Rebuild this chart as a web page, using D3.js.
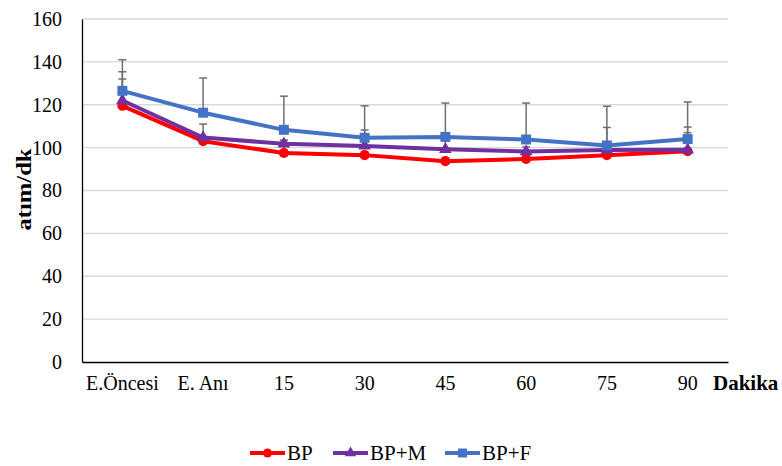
<!DOCTYPE html>
<html>
<head>
<meta charset="utf-8">
<script src="https://cdn.jsdelivr.net/npm/d3@7/dist/d3.min.js"></script>
<style>
  html, body { margin: 0; padding: 0; background: #fff; }
  svg { display: block; }
  svg text { fill: #000; }
</style>
</head>
<body>
<svg id="chart" width="782" height="466"></svg>
<script>
// Time points (minutes) and heart-rate means with their upper error values
const categories = ["E.Öncesi", "E. Anı", "15", "30", "45", "60", "75", "90"];
const yTicks = [0, 20, 40, 60, 80, 100, 120, 140, 160];

const bpValues  = [119.5, 103.0, 97.5, 96.5, 93.7, 94.7, 96.5, 98.3];
const bpErr     = [12.5, 1.5, 6.0, 1.5, 1.5, 1.5, 1.5, 8.7];

const bpmValues = [122.0, 104.7, 101.8, 100.8, 99.2, 98.2, 98.9, 99.0];
const bpmErr    = [13.4, 6.3, 1.5, 7.4, 5.5, 2.1, 10.5, 10.6];

const bpfValues = [126.5, 116.3, 108.3, 104.6, 105.0, 103.8, 101.0, 104.0];
const bpfErr    = [14.5, 16.2, 15.7, 14.9, 15.8, 17.0, 18.3, 17.3];

const seriesNames  = ["BP", "BP+M", "BP+F"];
const seriesColors = ["#ff0000", "#7030a0", "#4472c4"];
const seriesShapes = [d3.symbolCircle, d3.symbolTriangle, d3.symbolSquare];

const series = [
  { name: seriesNames[0], values: bpValues,  err: bpErr,  color: seriesColors[0], shape: seriesShapes[0], size: 80 },
  { name: seriesNames[1], values: bpmValues, err: bpmErr, color: seriesColors[1], shape: seriesShapes[1], size: 70 },
  { name: seriesNames[2], values: bpfValues, err: bpfErr, color: seriesColors[2], shape: seriesShapes[2], size: 100 }
];

const FONT = "'Liberation Serif', 'Times New Roman', serif";
const svg = d3.select("#chart").attr("font-family", FONT);
const plot = { left: 82, right: 728, top: 19, bottom: 362 };

const x = d3.scaleBand().domain(categories).range([plot.left, plot.right]);
const y = d3.scaleLinear().domain([0, 160]).range([plot.bottom, plot.top]);
const cx = c => x(c) + x.bandwidth() / 2;

// Horizontal gridlines
svg.append("g")
  .selectAll("line")
  .data(yTicks.filter(t => t > 0))
  .join("line")
  .attr("x1", plot.left).attr("x2", plot.right)
  .attr("y1", d => y(d)).attr("y2", d => y(d))
  .attr("stroke", "#d9d9d9").attr("stroke-width", 1.3);

// Y axis
const yAxis = svg.append("g")
  .attr("transform", `translate(${plot.left},0)`)
  .call(d3.axisLeft(y).tickValues(yTicks).tickSize(0).tickPadding(20));
yAxis.attr("font-family", FONT).attr("font-size", 20);
yAxis.selectAll("text").attr("fill", "#000");
yAxis.select(".domain").attr("stroke", "#000").attr("stroke-width", 1.3);

// X axis
const xAxis = svg.append("g")
  .attr("transform", `translate(0,${plot.bottom})`)
  .call(d3.axisBottom(x).tickSize(0).tickPadding(14));
xAxis.attr("font-family", FONT).attr("font-size", 20);
xAxis.selectAll("text").attr("fill", "#000");
xAxis.select(".domain").attr("stroke", "#000").attr("stroke-width", 1.3);

// Axis titles
svg.append("text")
  .attr("transform", `translate(31,${(plot.top + plot.bottom) / 2 - 1}) rotate(-90)`)
  .attr("text-anchor", "middle")
  .attr("font-size", 21).attr("font-weight", "bold")
  .attr("textLength", 82).attr("lengthAdjust", "spacingAndGlyphs")
  .text("atım/dk");

svg.append("text")
  .attr("x", 713).attr("y", 390)
  .attr("font-size", 21).attr("font-weight", "bold")
  .text("Dakika");

// Error bars (upper)
const errG = svg.append("g");
series.forEach(s => {
  const g = errG.append("g");
  categories.forEach((c, i) => {
    const top = s.values[i] + s.err[i];
    g.append("line")
      .attr("x1", cx(c)).attr("x2", cx(c))
      .attr("y1", y(s.values[i])).attr("y2", y(top))
      .attr("stroke", "#6f6f6f").attr("stroke-width", 1.5);
    g.append("line")
      .attr("x1", cx(c) - 4).attr("x2", cx(c) + 4)
      .attr("y1", y(top)).attr("y2", y(top))
      .attr("stroke", "#6f6f6f").attr("stroke-width", 1.5);
  });
});

// Lines and markers
const line = d3.line().x((d, i) => cx(categories[i])).y(d => y(d));
series.forEach(s => {
  svg.append("path")
    .datum(s.values)
    .attr("d", line)
    .attr("fill", "none")
    .attr("stroke", s.color)
    .attr("stroke-width", 4)
    .attr("stroke-linejoin", "round");
  svg.append("g")
    .selectAll("path")
    .data(s.values)
    .join("path")
    .attr("transform", (d, i) => `translate(${cx(categories[i])},${y(d)})`)
    .attr("d", d3.symbol().type(s.shape).size(s.size))
    .attr("fill", s.color);
});

// Legend
const legendX = [250, 333, 445];
const legend = svg.append("g");
series.forEach((s, i) => {
  const g = legend.append("g").attr("transform", `translate(${legendX[i]},453)`);
  g.append("line").attr("x1", 0).attr("x2", 35).attr("y1", 0).attr("y2", 0)
    .attr("stroke", s.color).attr("stroke-width", 4);
  g.append("path").attr("transform", "translate(17.5,0)")
    .attr("d", d3.symbol().type(s.shape).size(s.size * 0.8))
    .attr("fill", s.color);
  g.append("text").attr("x", 37).attr("y", 7)
    .attr("font-size", 21)
    .text(s.name);
});
</script>
</body>
</html>
